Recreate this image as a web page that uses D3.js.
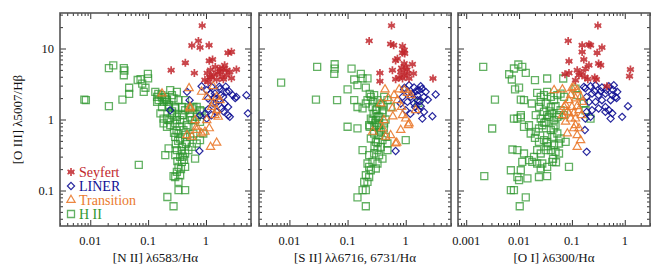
<!DOCTYPE html>
<html>
<head>
<meta charset="utf-8">
<script src="https://cdn.jsdelivr.net/npm/d3@7/dist/d3.min.js"></script>
<style>
  html, body { margin: 0; padding: 0; background: #fff; }
  svg text { font-family: 'Liberation Serif', 'Times New Roman', serif; }
</style>
</head>
<body>
<div id="chart"></div>
<script>
'use strict';

// [x, y] pairs, y is [O III]/Hb in every panel
// panel 1: [N II]/Ha
var niiSeyfert = [[0.86,21],[0.57,11],[0.74,12.8],[0.79,10.3],[1.13,11.1],[2.4,8.7],[2.76,9.0],[0.44,6.3],[0.25,4.95],
  [0.63,4.5],[1.14,6.7],[1.3,7.0],[1.05,4.5],[1.17,4.0],[1.37,4.3],[1.53,3.66],[1.74,4.7],[1.98,5.2],[2.26,4.2],[0.96,3.6],
  [1.09,3.4],[2.26,4.95],[2.58,4.7],[3.36,5.06],[2.76,3.8],[1.25,3.9],[1.6,4.5],[1.45,5.5],[2.0,3.7],[1.2,5.0],[1.9,4.0],
  [1.74,5.2],[2.1,5.8]];
var niiLiner = [[0.47,2.45],[0.52,1.87],[0.84,2.94],[1.03,2.59],[1.25,2.88],[1.43,2.32],[1.74,2.7],[1.98,2.08],[2.26,2.45],
  [1.63,1.87],[1.33,1.68],[1.09,1.98],[2.1,1.68],[2.41,1.5],[1.86,1.43],[1.53,1.28],[1.03,1.03],[1.25,1.15],[2.5,2.5],
  [2.9,2.2],[3.2,2.0],[3.36,2.08],[5.0,2.2],[5.3,1.22],[2.41,1.15],[2.58,1.09],[0.79,1.15],[0.77,0.36],[0.24,1.35],
  [1.4,2.0],[1.8,2.2],[1.2,2.3],[1.5,1.7],[2.0,1.3],[1.7,2.9],[2.2,2.9],[1.1,1.4],[0.95,1.2]];
var niiTransition = [[0.51,2.76],[0.174,2.32],[0.53,1.43],[0.84,2.45],[1.03,2.08],[1.33,1.68],[1.53,1.35],[1.43,1.15],
  [1.63,1.09],[0.69,0.71],[0.84,0.635],[0.69,0.79],[0.57,0.57],[0.47,0.6],[1.14,0.75],[1.2,0.41],[1.53,0.47],[0.65,0.98],
  [1.03,0.98],[1.33,2.94],[1.53,2.08],[1.74,1.87],[1.25,1.5],[0.53,1.5],[0.96,0.67]];
var niiHII = [[0.021,5.3],[0.025,5.8],[0.038,5.3],[0.039,4.9],[0.038,4.2],[0.066,3.6],[0.074,3.7],[0.079,3.2],[0.099,4.4],
  [0.10,3.8],[0.09,2.8],[0.084,2.45],[0.047,2.8],[0.047,2.3],[0.036,1.9],[0.0079,1.9],[0.0084,1.87],[0.021,1.54],
  [0.069,0.23],[0.133,2.45],[0.143,2.08],[0.152,1.87],[0.174,2.04],[0.185,1.77],[0.198,2.08],[0.212,1.87],[0.241,2.59],
  [0.258,2.2],[0.275,1.98],[0.314,2.45],[0.335,1.87],[0.226,1.5],[0.294,1.43],[0.174,1.5],[0.143,1.77],[0.436,1.87],
  [0.383,1.5],[0.497,1.43],[0.605,1.5],[0.789,1.35],[0.532,1.22],[0.692,1.09],[0.569,0.98],[0.163,1.22],[0.185,1.03],
  [0.226,0.98],[0.258,1.15],[0.314,1.09],[0.358,0.98],[0.408,1.15],[0.466,0.83],[0.212,0.787],[0.294,0.88],[0.21,1.77],
  [0.294,1.5],[0.258,1.22],[0.212,1.03],[0.185,0.88],[0.241,0.83],[0.314,0.98],[0.383,1.15],[0.436,1.35],[0.569,1.43],
  [0.692,1.5],[0.532,1.09],[0.648,0.98],[0.789,0.925],[0.497,0.787],[0.408,0.707],[0.335,0.635],[0.294,0.569],[0.358,0.54],
  [0.436,0.601],[0.532,0.569],[0.605,0.635],[0.466,0.484],[0.383,0.411],[0.314,0.37],[0.294,0.314],[0.358,0.297],
  [0.436,0.332],[0.497,0.37],[0.569,0.411],[0.648,0.282],[0.383,0.253],[0.335,0.215],[0.314,0.183],[0.294,0.155],
  [0.335,0.132],[0.275,0.159],[0.358,0.164],[0.789,0.511],[0.899,0.635],[0.692,0.459],[0.226,0.391],[0.198,0.314],
  [0.436,0.215],[0.335,0.101],[0.436,0.101],[0.215,0.081],[0.275,0.06],[0.30,0.45],[0.33,0.5],[0.38,0.36],[0.40,0.3],
  [0.32,0.26],[0.37,0.2],[0.42,0.27],[0.31,0.7],[0.28,0.65],[0.45,0.45],[0.35,0.8],[0.26,1.3],[0.23,1.6],[0.2,1.95],
  [0.17,2.2],[0.15,2.3],[0.84,1.3]];

// panel 2: [S II]/Ha
var siiSeyfert = [[0.57,21],[0.235,12.8],[0.55,11.6],[0.62,11.1],[0.88,10.8],[0.94,9.5],[0.88,8.7],[0.96,8.5],[0.67,6.8],
  [0.72,7.2],[0.94,6.15],[1.0,5.5],[1.3,6.0],[0.59,4.95],[0.82,4.68],[0.94,4.2],[1.07,4.44],[0.77,3.9],[0.88,3.78],
  [1.14,3.78],[1.36,4.44],[0.36,4.53],[0.36,3.46],[2.94,3.78],[0.67,3.7],[1.05,5.0],[0.85,5.3]];
var siiLiner = [[0.935,2.65],[1.14,3.04],[1.39,2.82],[1.81,2.94],[2.2,2.45],[2.06,2.08],[1.59,2.2],[1.22,2.08],[1.07,1.77],
  [1.39,1.68],[1.81,1.54],[2.06,1.28],[2.87,1.11],[1.0,1.35],[0.82,1.68],[1.59,1.87],[0.88,2.08],[3.27,2.25],[1.93,1.03],
  [0.67,0.36],[1.69,2.59],[1.3,2.3],[1.5,2.5],[1.75,1.8],[1.1,2.4],[2.4,1.9],[1.9,2.7],[1.45,1.5],[1.2,1.2],[0.95,2.8],
  [1.65,1.35]];
var siiTransition = [[0.44,2.65],[0.77,2.65],[0.63,2.2],[0.72,1.87],[1.07,2.37],[1.22,2.2],[1.48,1.35],[0.37,1.68],
  [0.59,1.43],[0.88,1.15],[1.0,1.03],[1.11,0.83],[0.82,0.71],[0.27,0.67],[0.40,0.75],[0.45,0.57],[0.67,0.46],[1.14,0.88],
  [0.70,0.47],[0.42,0.98],[0.5,2.0],[0.85,1.5],[0.95,2.6],[0.55,0.6],[0.6,1.1]];
var siiHII = [[0.0072,3.3],[0.030,5.5],[0.060,6.0],[0.060,5.2],[0.059,4.4],[0.117,5.2],[0.169,4.4],[0.181,3.8],[0.22,3.8],
  [0.13,3.66],[0.206,2.82],[0.148,3.04],[0.10,2.65],[0.0286,1.91],[0.066,1.87],[0.13,1.87],[0.148,1.5],[0.181,1.43],
  [0.22,1.87],[0.251,2.08],[0.286,2.2],[0.327,1.87],[0.372,1.68],[0.206,1.68],[0.268,1.5],[0.425,2.08],[0.485,1.87],
  [0.553,1.5],[0.398,1.35],[0.306,1.35],[0.251,1.03],[0.306,0.98],[0.348,0.83],[0.286,0.79],[0.235,0.83],[0.10,0.79],
  [0.148,0.75],[0.24,0.79],[0.268,0.98],[0.327,1.09],[0.398,1.22],[0.425,0.88],[0.327,0.83],[0.286,0.635],[0.348,0.60],
  [0.372,0.67],[0.251,0.54],[0.306,0.484],[0.398,0.511],[0.454,0.569],[0.485,0.459],[0.372,0.411],[0.327,0.37],
  [0.286,0.332],[0.235,0.314],[0.348,0.314],[0.398,0.282],[0.485,0.37],[0.181,0.37],[0.22,0.24],[0.268,0.253],
  [0.327,0.24],[0.306,0.204],[0.235,0.215],[0.206,0.164],[0.235,0.155],[0.251,0.193],[0.193,0.132],[0.22,0.132],
  [0.181,0.101],[0.206,0.101],[0.148,0.08],[0.206,0.06],[1.0,0.511],[1.65,1.71],[0.28,1.2],[0.32,1.4],[0.35,1.1],
  [0.3,0.9],[0.4,1.6],[0.27,1.8],[0.24,2.3],[0.35,0.7],[0.33,0.48],[0.29,0.42],[0.42,0.75],[0.45,1.0]];

// panel 3: [O I]/Ha
var oiSeyfert = [[0.31,21],[0.085,12.8],[0.156,11.1],[0.21,11.4],[0.225,11.1],[0.156,8.95],[0.30,8.7],[0.37,10.3],
  [0.168,7.0],[0.088,6.6],[0.18,5.2],[0.21,5.8],[0.32,6.15],[0.35,5.8],[0.126,4.95],[0.088,4.53],[0.074,4.34],[0.136,4.2],
  [0.176,3.98],[0.117,3.58],[0.27,3.9],[0.29,3.66],[1.28,5.06],[1.23,4.07],[0.46,2.94],[0.15,4.5],[0.2,3.7]];
var oiLiner = [[0.18,2.76],[0.225,2.94],[0.28,3.04],[0.37,2.82],[0.50,2.94],[0.62,3.04],[0.72,2.45],[0.58,2.2],[0.43,2.32],
  [0.32,2.2],[0.24,2.32],[0.19,2.08],[0.21,1.77],[0.28,1.77],[0.37,1.87],[0.54,1.87],[0.67,2.08],[0.43,1.5],[0.50,1.35],
  [0.58,1.22],[0.32,1.43],[0.24,1.35],[0.19,1.28],[0.18,1.03],[0.225,1.09],[0.89,1.09],[1.15,1.54],[0.54,1.03],
  [0.168,2.88],[0.19,0.35],[0.176,0.71],[0.43,1.28],[0.45,2.6],[0.6,2.6],[0.35,2.5],[0.27,2.5],[0.7,2.0]];
var oiTransition = [[0.046,2.59],[0.066,2.65],[0.10,2.76],[0.126,2.59],[0.109,2.88],[0.095,2.2],[0.117,1.98],[0.146,2.08],
  [0.156,1.77],[0.088,1.87],[0.076,1.6],[0.10,1.5],[0.126,1.54],[0.136,1.35],[0.109,1.22],[0.082,1.28],[0.066,1.15],
  [0.095,1.03],[0.117,1.03],[0.151,1.15],[0.071,1.5],[0.088,1.22],[0.076,0.93],[0.117,0.83],[0.136,0.75],[0.082,0.635],
  [0.126,0.60],[0.146,0.51],[0.126,0.41],[0.109,0.75]];
var oiHII = [[0.0021,5.5],[0.0065,4.34],[0.008,5.23],[0.0097,5.95],[0.0115,5.5],[0.0134,4.53],[0.0073,3.66],[0.020,3.58],
  [0.034,3.78],[0.0685,3.78],[0.0084,2.65],[0.010,2.82],[0.0035,1.91],[0.0108,1.91],[0.0124,1.87],[0.0174,1.68],
  [0.022,2.37],[0.0257,2.08],[0.0296,2.2],[0.034,2.45],[0.040,2.08],[0.046,1.87],[0.053,2.2],[0.061,2.32],[0.071,2.08],
  [0.0257,1.77],[0.032,1.68],[0.040,1.5],[0.049,1.54],[0.0296,1.28],[0.034,1.15],[0.0425,1.22],[0.053,1.09],[0.061,1.35],
  [0.071,1.15],[0.024,1.5],[0.0207,1.15],[0.0108,1.07],[0.008,1.03],[0.117,2.73],[0.126,2.2],[0.168,1.68],[0.225,1.03],
  [0.181,1.35],[0.0031,0.747],[0.0093,1.03],[0.0108,1.15],[0.0124,0.787],[0.0154,0.83],[0.0166,0.635],[0.0207,0.67],
  [0.0238,0.747],[0.0275,0.83],[0.032,0.925],[0.0257,1.03],[0.0368,1.09],[0.046,0.98],[0.057,1.15],[0.049,0.83],
  [0.040,0.707],[0.034,0.60],[0.0425,0.569],[0.053,0.635],[0.061,0.54],[0.076,0.484],[0.057,0.459],[0.046,0.434],
  [0.034,0.484],[0.0296,0.511],[0.0238,0.484],[0.022,0.37],[0.0257,0.332],[0.032,0.37],[0.040,0.37],[0.049,0.35],
  [0.057,0.332],[0.0192,0.297],[0.0178,0.253],[0.022,0.24],[0.0275,0.24],[0.034,0.215],[0.0425,0.253],[0.0257,0.204],
  [0.0154,0.267],[0.0124,0.332],[0.0093,0.37],[0.0075,0.378],[0.0115,0.253],[0.0108,0.193],[0.0144,0.148],[0.0238,0.155],
  [0.034,0.159],[0.0093,0.155],[0.010,0.14],[0.007,0.193],[0.0022,0.159],[0.007,0.101],[0.008,0.101],[0.0134,0.08],
  [0.0103,0.06],[0.088,0.215],[0.03,0.9],[0.045,0.75],[0.035,0.42],[0.02,0.55],[0.038,1.3],[0.044,0.28],[0.05,0.25]];

var classNames = ['Seyfert', 'LINER', 'Transition', 'H II'];
var yTickLabels = ['0.1', '1', '10'];
var xTickLabels12 = ['0.01', '0.1', '1'];
var xTickLabels3 = ['0.001', '0.01', '0.1', '1'];

var colors = {
    'Seyfert'    : '#c1272d',
    'LINER'      : '#0f0f94',
    'Transition' : '#ea7a2e',
    'H II'       : '#2f972f'
};

var W = 664, H = 266;
var plotTop = 13, plotBottom = 226;

var svg = d3.select('#chart').append('svg')
    .attr('width', W)
    .attr('height', H);

var y = d3.scaleLog().domain([Math.pow(10, -1.5), Math.pow(10, 1.5)]).range([plotBottom, plotTop]);

var panels = [
    { left: 60,  right: 251, domain: [0.003, 6],   labels: xTickLabels12, title: '[N II] \u03bb6583/H\u03b1',
      sets: { 'Seyfert': niiSeyfert, 'LINER': niiLiner, 'Transition': niiTransition, 'H II': niiHII } },
    { left: 259, right: 451, domain: [0.003, 6],   labels: xTickLabels12, title: '[S II] \u03bb\u03bb6716, 6731/H\u03b1',
      sets: { 'Seyfert': siiSeyfert, 'LINER': siiLiner, 'Transition': siiTransition, 'H II': siiHII } },
    { left: 458, right: 650, domain: [0.0007, 3],  labels: xTickLabels3,  title: '[O I] \u03bb6300/H\u03b1',
      sets: { 'Seyfert': oiSeyfert, 'LINER': oiLiner, 'Transition': oiTransition, 'H II': oiHII } }
];
// order the sets are drawn in
var drawOrder = ['H II', 'LINER', 'Transition', 'Seyfert'];

function isDecade(v) {
    var l = Math.log10(v);
    return Math.abs(l - Math.round(l)) < 1e-6;
}

// marker path, centred on 0,0
function markerPath(kind) {
    if (kind === 'H II') {
        return 'M-3.5,-3.5H3.5V3.5H-3.5Z';
    }
    if (kind === 'LINER') {
        return 'M0,-3.6L3.6,0L0,3.6L-3.6,0Z';
    }
    if (kind === 'Transition') {
        return d3.symbol().type(d3.symbolTriangle).size(30)();
    }
    // asterisk: three crossing strokes plus a bar
    var r = 4, p = '';
    [90, 30, -30].forEach(function(a) {
        var dx = r * Math.cos(a * Math.PI / 180), dy = r * Math.sin(a * Math.PI / 180);
        p += 'M' + (-dx) + ',' + (-dy) + 'L' + dx + ',' + dy;
    });
    return p + 'M-3,0L3,0';
}

function drawMarker(g, kind, cx, cy) {
    var m = g.append('path')
        .attr('d', markerPath(kind))
        .attr('transform', 'translate(' + cx + ',' + cy + ')')
        .attr('fill', 'none')
        .attr('stroke', colors[kind]);
    if (kind === 'Seyfert') {
        m.attr('stroke-width', 1.7).attr('stroke-opacity', 0.85);
    } else if (kind === 'H II') {
        m.attr('stroke-width', 1.3).attr('stroke-opacity', 0.75);
    } else {
        m.attr('stroke-width', 1.2).attr('stroke-opacity', 0.9);
    }
    return m;
}

panels.forEach(function(p, pi) {
    var x = d3.scaleLog().domain(p.domain).range([p.left, p.right]);
    var g = svg.append('g').attr('class', 'panel');

    // points
    var pts = g.append('g').attr('class', 'points');
    drawOrder.forEach(function(kind) {
        p.sets[kind].forEach(function(d) {
            drawMarker(pts, kind, x(d[0]), y(d[1]));
        });
    });

    // ticks, inward on all four sides
    var xMajor = x.ticks().filter(isDecade);
    var xMinor = x.ticks().filter(function(v) { return !isDecade(v); });
    var yMajor = y.ticks().filter(isDecade);
    var yMinor = y.ticks().filter(function(v) { return !isDecade(v); });

    function addAxis(axisFn, scale, values, size, transform) {
        var a = g.append('g')
            .attr('transform', transform)
            .call(axisFn(scale).tickValues(values).tickSize(-size).tickFormat(''));
        a.select('.domain').remove();
        a.selectAll('line').attr('stroke', '#333').attr('stroke-width', 1);
    }
    addAxis(d3.axisBottom, x, xMajor, 6, 'translate(0,' + plotBottom + ')');
    addAxis(d3.axisBottom, x, xMinor, 3, 'translate(0,' + plotBottom + ')');
    addAxis(d3.axisTop, x, xMajor, 6, 'translate(0,' + plotTop + ')');
    addAxis(d3.axisTop, x, xMinor, 3, 'translate(0,' + plotTop + ')');
    addAxis(d3.axisLeft, y, yMajor, 6, 'translate(' + p.left + ',0)');
    addAxis(d3.axisLeft, y, yMinor, 3, 'translate(' + p.left + ',0)');
    addAxis(d3.axisRight, y, yMajor, 6, 'translate(' + p.right + ',0)');
    addAxis(d3.axisRight, y, yMinor, 3, 'translate(' + p.right + ',0)');

    // frame
    g.append('rect')
        .attr('x', p.left).attr('y', plotTop)
        .attr('width', p.right - p.left).attr('height', plotBottom - plotTop)
        .attr('fill', 'none')
        .attr('stroke', '#555')
        .attr('stroke-width', 1.6);

    // x tick labels
    g.selectAll('text.xl')
        .data(xMajor)
        .enter().append('text')
        .attr('class', 'xl')
        .attr('x', function(d) { return x(d); })
        .attr('y', 245)
        .attr('text-anchor', 'middle')
        .attr('font-size', 12.5)
        .attr('fill', '#111')
        .text(function(d, i) { return p.labels[i]; });

    // x title
    g.append('text')
        .attr('x', (p.left + p.right) / 2)
        .attr('y', 262)
        .attr('text-anchor', 'middle')
        .attr('font-size', 13)
        .attr('fill', '#111')
        .text(p.title);

    if (pi === 0) {
        g.selectAll('text.yl')
            .data(yMajor)
            .enter().append('text')
            .attr('class', 'yl')
            .attr('x', 54)
            .attr('y', function(d) { return y(d) + 4.5; })
            .attr('text-anchor', 'end')
            .attr('font-size', 12.5)
            .attr('fill', '#111')
            .text(function(d, i) { return yTickLabels[i]; });

        g.append('text')
            .attr('transform', 'translate(22,' + ((plotTop + plotBottom) / 2) + ') rotate(-90)')
            .attr('text-anchor', 'middle')
            .attr('font-size', 13)
            .attr('fill', '#111')
            .text('[O III] \u03bb5007/H\u03b2');

        // legend
        var lg = g.append('g').attr('class', 'legend');
        classNames.forEach(function(name, i) {
            var cy = 172 + i * 14;
            drawMarker(lg, name, 71, cy);
            lg.append('text')
                .attr('x', 79)
                .attr('y', cy + 5)
                .attr('font-size', 14)
                .attr('fill', colors[name])
                .text(name);
        });
    }
});
</script>
</body>
</html>
